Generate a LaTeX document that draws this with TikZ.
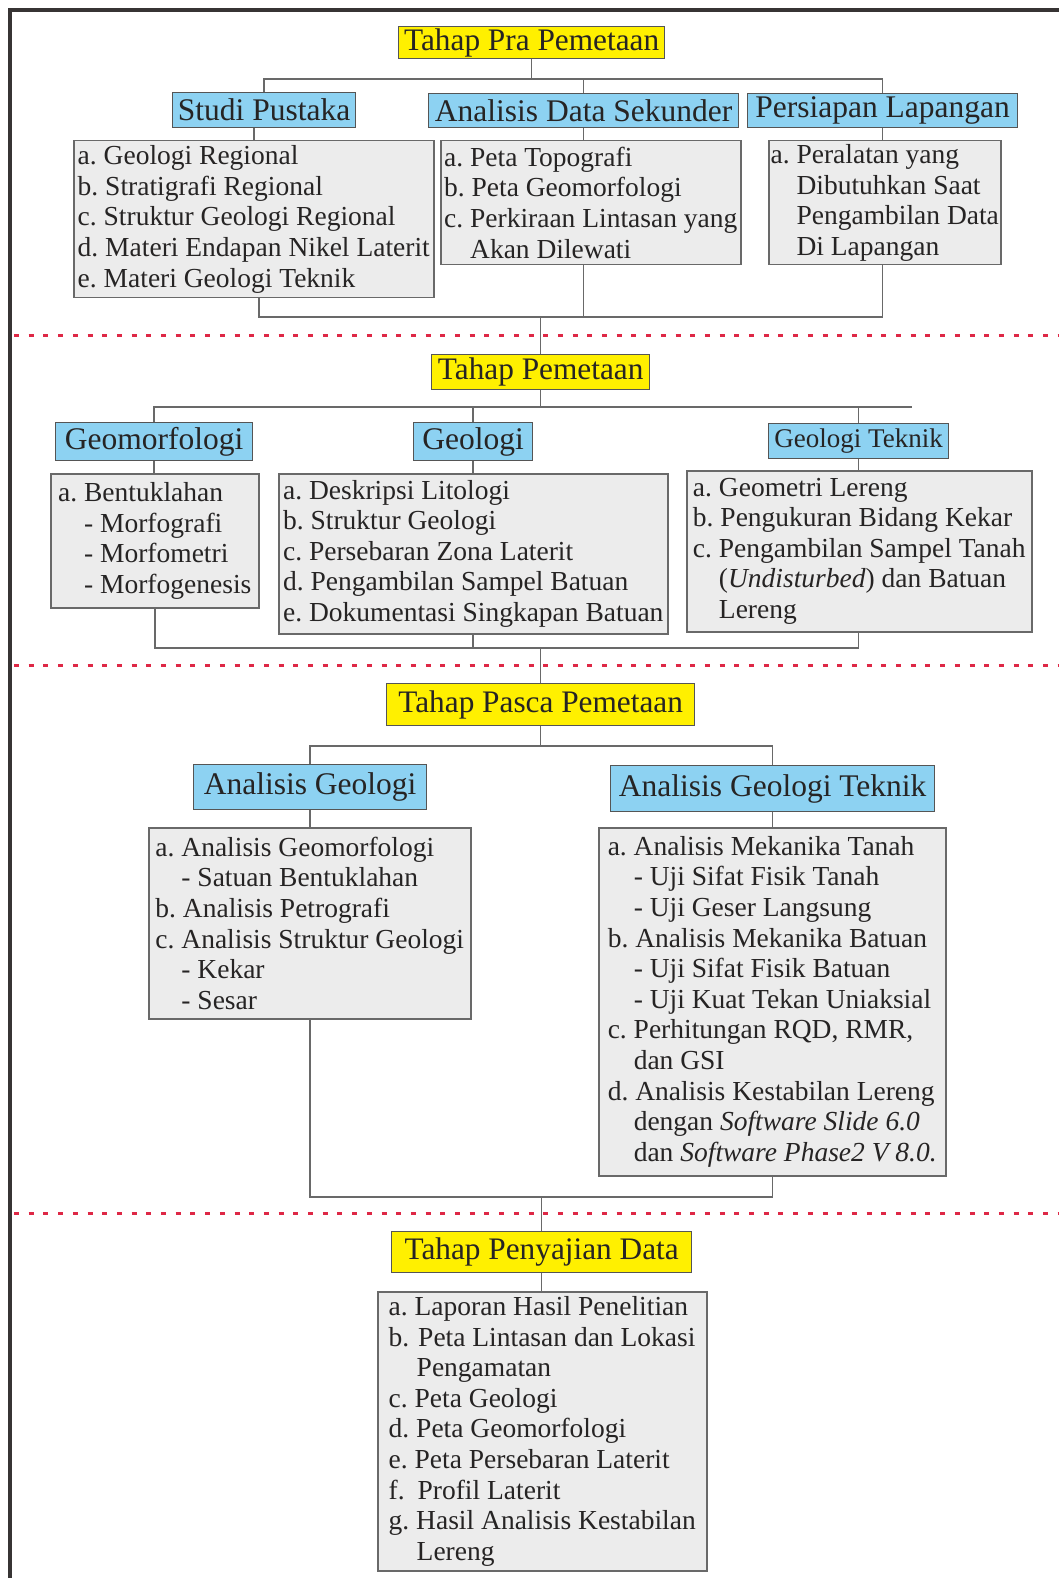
\documentclass[tikz,border=0pt]{standalone}
\usepackage{fontspec}
\setmainfont{Liberation Serif}
\usetikzlibrary{calc}
\frenchspacing
\definecolor{ylw}{RGB}{255,240,0}
\definecolor{blu}{RGB}{141,210,242}
\definecolor{itm}{RGB}{236,236,236}
\definecolor{bline}{RGB}{85,85,85}
\definecolor{iline}{RGB}{105,105,105}
\definecolor{cline}{RGB}{105,105,105}
\definecolor{txt}{RGB}{38,36,36}
\definecolor{frm}{RGB}{55,52,52}
\definecolor{rdash}{RGB}{222,40,70}
\newcommand\ind{\hspace*{26pt}}
\begin{document}
\begin{tikzpicture}[x=1pt,y=-1pt,
  hdrY/.style={draw=bline, fill=ylw, line width=1.3pt, inner sep=0pt, text=txt,
    font=\fontsize{31.3}{34}\selectfont\frenchspacing, anchor=north west},
  hdrB/.style={draw=bline, fill=blu, line width=1.3pt, inner sep=0pt, text=txt,
    font=\fontsize{31.5}{34}\selectfont\frenchspacing, anchor=north west},
  itembox/.style={draw=iline, fill=itm, line width=1.5pt, inner sep=0pt, text=txt,
    align=left, anchor=north west, font=\fontsize{27.5}{30.6}\selectfont\frenchspacing},
  conn/.style={draw=cline, line width=1.6pt},
  reddash/.style={draw=rdash, line width=3pt, dash pattern=on 5pt off 9.7pt},
  frame/.style={draw=frm, line width=3.5pt}]
\useasboundingbox (0,0) rectangle (1059,1578);
\fill[white] (0,0) rectangle (1059,1578);

% frame and separators
\draw[frame] (10,1578) -- (10,10) -- (1059,10);
\draw[reddash] (14,335) -- (1059,335);
\draw[reddash] (14,665) -- (1059,665);
\draw[reddash] (14,1213) -- (1059,1213);

% ---------- Section 1 ----------
\node[hdrY, minimum width=266pt, minimum height=32pt] (pra) at (398,26) {Tahap Pra Pemetaan};
\node[hdrB, minimum width=183pt, minimum height=35pt] (studi) at (172,92) {Studi Pustaka};
\node[hdrB, minimum width=310pt, minimum height=34pt] (ana) at (428,93) {Analisis Data Sekunder};
\node[hdrB, minimum width=270pt, minimum height=34pt] (pers) at (747,93) {Persiapan Lapangan};

\node[itembox, minimum width=360pt, minimum height=157pt] (studiI) at (73,140)
  {a. Geologi Regional\\b. Stratigrafi Regional\\c. Struktur Geologi Regional\\d. Materi Endapan Nikel Laterit\\e. Materi Geologi Teknik};
\node[itembox, minimum width=300pt, minimum height=124pt] (anaI) at (440,140)
  {a. Peta Topografi\\b. Peta Geomorfologi\\c. Perkiraan Lintasan yang\\\ind Akan Dilewati};
\node[itembox, minimum width=232pt, minimum height=124pt] (persI) at (768,140)
  {a. Peralatan yang\\\ind Dibutuhkan Saat\\\ind Pengambilan Data\\\ind Di Lapangan};

\coordinate (t1) at (0,79);
\coordinate (b1) at (0,317);
\draw[conn] (pra.south) -- (pra.south |- t1);
\draw[conn] (studi.north) |- (pers.north |- t1) -- (pers.north);
\draw[conn] (ana.north) -- (ana.north |- t1);
\draw[conn] (studi.south -| studiI.north) -- (studiI.north);
\draw[conn] (ana.south) -- (ana.south |- anaI.north);
\draw[conn] (pers.south) -- (pers.south |- persI.north);
\draw[conn] ($(studiI.south)+(5,0)$) |- (pers.south |- b1) -- (pers.south |- persI.south);
\draw[conn] (ana.south |- anaI.south) -- (ana.south |- b1);

% ---------- Section 2 ----------
\node[hdrY, minimum width=218pt, minimum height=35pt] (pem) at (431,354) {Tahap Pemetaan};
\node[hdrB, minimum width=197pt, minimum height=38pt] (geom) at (55,422) {Geomorfologi};
\node[hdrB, minimum width=119pt, minimum height=38pt] (geo) at (413,422) {Geologi};
\node[hdrB, minimum width=180pt, minimum height=35pt, font=\fontsize{27}{30}\selectfont] (gt) at (768,423) {Geologi Teknik};

\node[itembox, minimum width=208pt, minimum height=134pt] (geomI) at (50,473)
  {a. Bentuklahan\\\ind - Morfografi\\\ind - Morfometri\\\ind - Morfogenesis};
\node[itembox, minimum width=389pt, minimum height=160pt] (geoI) at (278,473)
  {a. Deskripsi Litologi\\b. Struktur Geologi\\c. Persebaran Zona Laterit\\d. Pengambilan Sampel Batuan\\e. Dokumentasi Singkapan Batuan};
\node[itembox, minimum width=345pt, minimum height=161pt] (gtI) at (686,470)
  {a. Geometri Lereng\\b. Pengukuran Bidang Kekar\\c. Pengambilan Sampel Tanah\\\ind (\textit{Undisturbed}) dan Batuan\\\ind Lereng};

\draw[conn] (pem.north) -- (pem.north |- b1);
\coordinate (t2) at (912,407);
\coordinate (b2) at (0,648);
\draw[conn] (geom.north) |- (t2);
\draw[conn] (pem.south) -- (pem.south |- t2);
\draw[conn] (geo.north) -- (geo.north |- t2);
\draw[conn] (gt.north) -- (gt.north |- t2);
\draw[conn] (geom.south) -- (geom.south |- geomI.north);
\draw[conn] (geo.south) -- (geo.south |- geoI.north);
\draw[conn] (gt.south) -- (gt.south |- gtI.north);
\draw[conn] (geomI.south) |- (gt.south |- b2) -- (gt.south |- gtI.south);
\draw[conn] (geoI.south) -- (geoI.south |- b2);

% ---------- Section 3 ----------
\node[hdrY, minimum width=308pt, minimum height=42pt] (pasca) at (386,683) {Tahap Pasca Pemetaan};
\node[hdrB, minimum width=233pt, minimum height=45pt] (ag) at (193,764) {Analisis Geologi};
\node[hdrB, minimum width=324pt, minimum height=46pt] (agt) at (610,765) {Analisis Geologi Teknik};

\node[itembox, minimum width=322pt, minimum height=191pt] (agI) at (148,827)
  {a. Analisis Geomorfologi\\\ind - Satuan Bentuklahan\\b. Analisis Petrografi\\c. Analisis Struktur Geologi\\\ind - Kekar\\\ind - Sesar};
\node[itembox, minimum width=347pt, minimum height=348pt] (agtI) at (598,827)
  {a. Analisis Mekanika Tanah\\\ind - Uji Sifat Fisik Tanah\\\ind - Uji Geser Langsung\\b. Analisis Mekanika Batuan\\\ind - Uji Sifat Fisik Batuan\\\ind - Uji Kuat Tekan Uniaksial\\c. Perhitungan RQD, RMR,\\\ind dan GSI\\d. Analisis Kestabilan Lereng\\\ind dengan \textit{Software Slide 6.0}\\\ind dan \textit{Software Phase2 V 8.0.}};

\draw[conn] (pasca.north) -- (pasca.north |- b2);
\coordinate (t3) at (0,746);
\coordinate (b3) at (0,1197);
\draw[conn] (ag.north) |- (agt.north |- t3) -- (agt.north);
\draw[conn] (pasca.south) -- (pasca.south |- t3);
\draw[conn] (ag.south) -- (ag.south |- agI.north);
\draw[conn] (agt.south) -- (agt.south |- agtI.north);
\draw[conn] (agI.south) |- (agt.south |- b3) -- (agt.south |- agtI.south);

% ---------- Section 4 ----------
\node[hdrY, minimum width=300pt, minimum height=41pt] (pen) at (391,1231) {Tahap Penyajian Data};
\node[itembox, minimum width=329pt, minimum height=279pt] (penI) at (377,1291)
  {a. Laporan Hasil Penelitian\\b.\hspace{2pt} Peta Lintasan dan Lokasi\\\hspace*{28pt}Pengamatan\\c. Peta Geologi\\d. Peta Geomorfologi\\e. Peta Persebaran Laterit\\f.\hspace{6pt} Profil Laterit\\g. Hasil Analisis Kestabilan\\\hspace*{28pt}Lereng};

\draw[conn] (pen.north) -- (pen.north |- b3);
\draw[conn] (pen.south) -- (pen.south |- penI.north);
\end{tikzpicture}
\end{document}
